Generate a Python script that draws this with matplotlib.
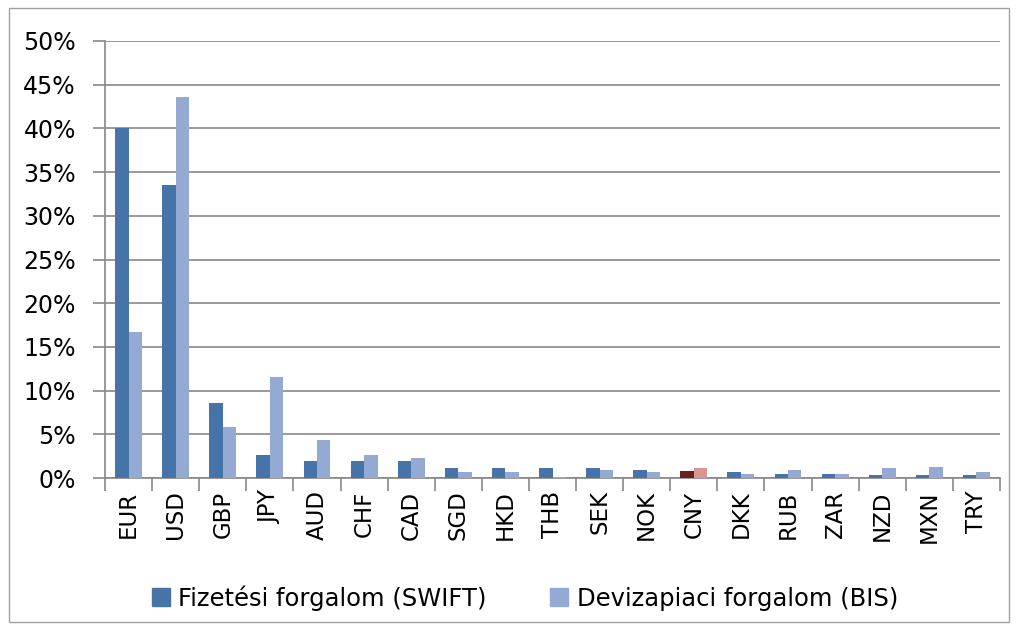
import matplotlib.pyplot as plt
import numpy as np
from matplotlib.patches import Rectangle

currencies = ['EUR', 'USD', 'GBP', 'JPY', 'AUD', 'CHF', 'CAD', 'SGD', 'HKD', 'THB',
              'SEK', 'NOK', 'CNY', 'DKK', 'RUB', 'ZAR', 'NZD', 'MXN', 'TRY']
swift = [40.1, 33.5, 8.6, 2.6, 1.9, 1.9, 1.9, 1.1, 1.1, 1.1,
         1.1, 0.9, 0.8, 0.7, 0.5, 0.5, 0.3, 0.3, 0.3]
bis = [16.7, 43.6, 5.8, 11.6, 4.3, 2.6, 2.25, 0.7, 0.7, 0.1,
       0.9, 0.7, 1.1, 0.5, 0.9, 0.5, 1.1, 1.3, 0.7]
yticks = [0, 5, 10, 15, 20, 25, 30, 35, 40, 45, 50]

c_swift = '#4673A8'
c_bis = '#95AAD2'
c_cny_swift = '#6B1F1F'
c_cny_bis = '#DA9694'

fig = plt.figure(figsize=(10.19, 6.3), dpi=100)
ax = fig.add_axes([105/1019, 1-478/630, 895/1019, 437/630])

# outer chart border
fig.patches.append(Rectangle((9/1019, 8/630), 1000/1019, 614/630, transform=fig.transFigure,
                             fill=False, edgecolor='#A0A0A0', linewidth=1))

x = np.arange(len(currencies))
w = 1/3.5
cols1 = [c_cny_swift if c == 'CNY' else c_swift for c in currencies]
cols2 = [c_cny_bis if c == 'CNY' else c_bis for c in currencies]
ax.bar(x - w/2, swift, w, color=cols1, zorder=3)
ax.bar(x + w/2, bis, w, color=cols2, zorder=3)

ax.set_xlim(-0.5, len(currencies) - 0.5)
ax.set_ylim(0, 50)
ax.set_yticks(yticks)
ax.set_yticklabels([f'{t}%' for t in yticks], fontsize=17)
ax.yaxis.grid(True, color='#888888', linewidth=1.2, zorder=0)

ax.set_xticks(x)
ax.set_xticklabels(currencies, rotation=90, fontsize=16.5)
ax.tick_params(axis='x', length=0, pad=9)
ax.set_xticks(np.arange(-0.5, len(currencies)), minor=True)
ax.tick_params(axis='x', which='minor', length=9, color='#888888', width=1.2)
ax.tick_params(axis='y', length=9, color='#888888', width=1.2, pad=12)

for s in ['top', 'right']:
    ax.spines[s].set_visible(False)
for s in ['left', 'bottom']:
    ax.spines[s].set_color('#888888')
    ax.spines[s].set_linewidth(1.2)

h1 = Rectangle((0, 0), 1, 1, color=c_swift)
h2 = Rectangle((0, 0), 1, 1, color=c_bis)
fig.legend([h1, h2], ['Fizetési forgalom (SWIFT)', 'Devizapiaci forgalom (BIS)'],
           loc='center', bbox_to_anchor=(0.515, 1-598/630), ncol=2, frameon=False,
           prop={'size': 17.5},
           handlelength=0.75, handleheight=0.75, handletextpad=0.35, columnspacing=2.6)

fig.savefig('out.png', dpi=100)
